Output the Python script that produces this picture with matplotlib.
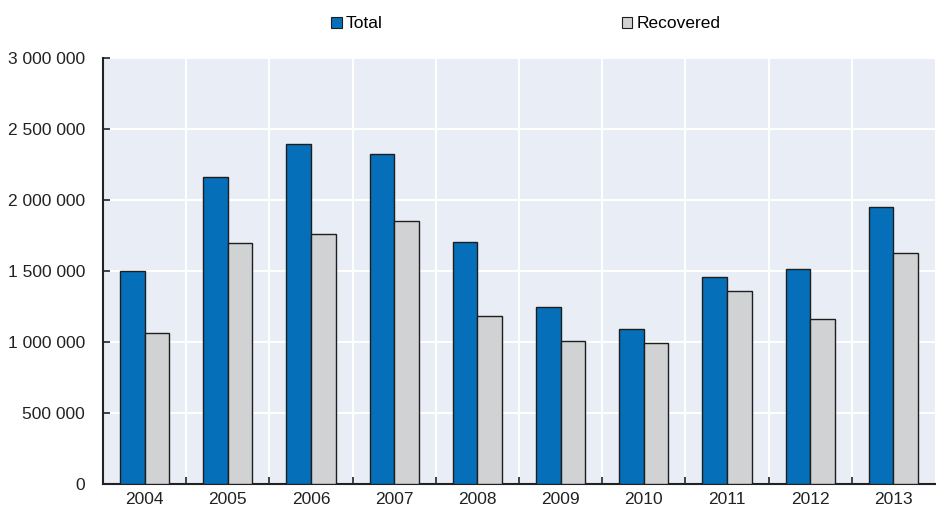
import matplotlib
matplotlib.use("Agg")
import matplotlib.pyplot as plt
from matplotlib.ticker import FuncFormatter, FixedLocator
from matplotlib.patches import Patch
import numpy as np

years = ["2004", "2005", "2006", "2007", "2008", "2009", "2010", "2011", "2012", "2013"]
total = [1502000, 2159000, 2394000, 2326000, 1701000, 1246000, 1091000, 1455000, 1511000, 1954000]
recovered = [1066000, 1696000, 1759000, 1855000, 1181000, 1010000, 996000, 1361000, 1162000, 1628000]

plt.rcParams["font.family"] = ["Liberation Sans Narrow", "Liberation Sans", "DejaVu Sans"]
plt.rcParams["font.size"] = 12.5

BLUE = "#0570b9"
GREY = "#d1d2d4"
BG = "#e8edf6"
EDGE = "#1e1e1e"
INK = "#222222"

fig = plt.figure(figsize=(9.36, 5.08), dpi=100)
ax = fig.add_axes([0.110, 0.047, 0.889, 0.839])
ax.set_facecolor(BG)

x = np.arange(len(years))
w = 0.295
ax.bar(x - w / 2, total, w, color=BLUE, edgecolor=EDGE, linewidth=1.0, zorder=3, label="Total")
ax.bar(x + w / 2, recovered, w, color=GREY, edgecolor=EDGE, linewidth=1.0, zorder=3, label="Recovered")

ax.set_xlim(-0.5, len(years) - 0.5)
ax.set_ylim(0, 3000000)

ax.set_xticks(x)
ax.set_xticklabels(years)
ax.xaxis.set_minor_locator(FixedLocator(np.arange(0.5, len(years) - 0.5, 1)))
ax.tick_params(axis="x", which="major", length=0, pad=6, colors=INK)
ax.tick_params(axis="x", which="minor", length=5, direction="in", width=1.2, color=INK)

ax.set_yticks(np.arange(0, 3000001, 500000))
ax.yaxis.set_major_formatter(FuncFormatter(lambda v, p: f"{int(v):,}".replace(",", " ")))
ax.tick_params(axis="y", length=5, direction="in", width=1.2, pad=13, colors=INK)

ax.grid(True, axis="y", which="major", color="white", linewidth=1.5, zorder=0)
ax.grid(True, axis="x", which="minor", color="white", linewidth=1.5, zorder=0)
ax.grid(False, axis="x", which="major")
ax.set_axisbelow(True)

for s in ["top", "right"]:
    ax.spines[s].set_visible(False)
for s in ["left", "bottom"]:
    ax.spines[s].set_color(INK)
    ax.spines[s].set_linewidth(1.5)

handles = [Patch(facecolor=BLUE, edgecolor=EDGE, linewidth=0.8),
           Patch(facecolor=GREY, edgecolor=EDGE, linewidth=0.8)]
ax.legend(handles, ["Total", "Recovered"], loc="center", bbox_to_anchor=(0.5084, 1.0 + 34 / 426),
          ncol=2, frameon=False, handlelength=0.6, handleheight=0.6, handletextpad=0.25,
          columnspacing=13.77, fontsize=12.5)

fig.savefig("out.png", dpi=100)
